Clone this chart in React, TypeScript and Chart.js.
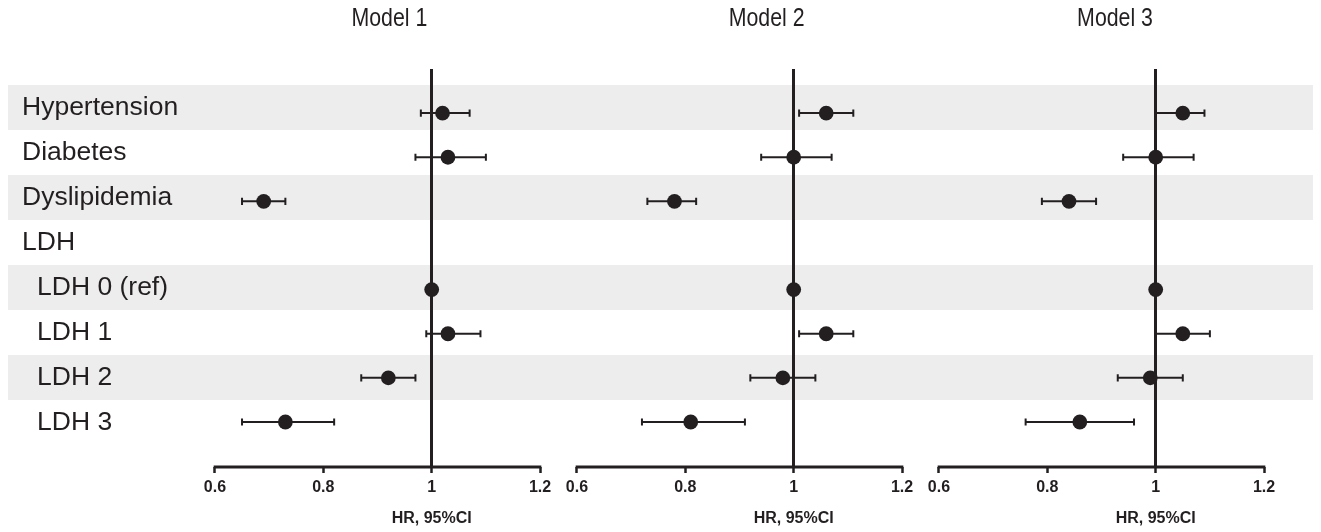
import React, { useEffect, useRef } from "react";
import { Chart, registerables } from "chart.js";

Chart.register(...registerables);

// ---------- data ----------
const rowLabels = [
  "Hypertension",
  "Diabetes",
  "Dyslipidemia",
  "LDH",
  "LDH 0 (ref)",
  "LDH 1",
  "LDH 2",
  "LDH 3",
];
const rowIndented = [false, false, false, false, true, true, true, true];
const shadedRows = [0, 2, 4, 6];

const modelTitles = ["Model 1", "Model 2", "Model 3"];
const tickValues = [0.6, 0.8, 1.0, 1.2];
const tickLabels = ["0.6", "0.8", "1", "1.2"];
const axisTitle = "HR, 95%CI";
const refValue = 1.0;

const model1HR = [1.02, 1.03, 0.69, null, 1.0, 1.03, 0.92, 0.73];
const model1Lo = [0.98, 0.97, 0.65, null, null, 0.99, 0.87, 0.65];
const model1Hi = [1.07, 1.1, 0.73, null, null, 1.09, 0.97, 0.82];

const model2HR = [1.06, 1.0, 0.78, null, 1.0, 1.06, 0.98, 0.81];
const model2Lo = [1.01, 0.94, 0.73, null, null, 1.01, 0.92, 0.72];
const model2Hi = [1.11, 1.07, 0.82, null, null, 1.11, 1.04, 0.91];

const model3HR = [1.05, 1.0, 0.84, null, 1.0, 1.05, 0.99, 0.86];
const model3Lo = [1.0, 0.94, 0.79, null, null, 1.0, 0.93, 0.76];
const model3Hi = [1.09, 1.07, 0.89, null, null, 1.1, 1.05, 0.96];

const models = [
  { hr: model1HR, lo: model1Lo, hi: model1Hi },
  { hr: model2HR, lo: model2Lo, hi: model2Hi },
  { hr: model3HR, lo: model3Lo, hi: model3Hi },
];

// ---------- styling ----------
const INK = "#231f20";
const BAND = "#ededed";
const SANS = '"Liberation Sans", Arial, Helvetica, sans-serif';
const AXIS_PAD = 0.034;
const titleAnchors = [0.922, 0.95, 0.925];
const xIds = ["x0", "x1", "x2"];

function fontAvailable(ctx: CanvasRenderingContext2D, fam: string) {
  const probe = "Model 1 abcdefg";
  ctx.font = `40px "${fam}", monospace`;
  const a = ctx.measureText(probe).width;
  ctx.font = "40px monospace";
  const b = ctx.measureText(probe).width;
  return a !== b;
}

export default function App() {
  const ref = useRef<HTMLCanvasElement | null>(null);

  useEffect(() => {
    const canvas = ref.current;
    if (!canvas) return;
    const probeCtx = canvas.getContext("2d")!;
    const narrow = fontAvailable(probeCtx, "Liberation Sans Narrow");
    const titleFont = narrow
      ? `26px "Liberation Sans Narrow", ${SANS}`
      : `26px ${SANS}`;
    const titleSqueeze = narrow ? 1 : 0.82;

    const datasets: any[] = [];
    models.forEach((m, p) => {
      datasets.push({
        type: "scatter",
        xAxisID: xIds[p],
        yAxisID: "y",
        order: 0,
        data: m.hr
          .map((v, i) => (v == null ? null : { x: v, y: i }))
          .filter((d) => d !== null),
        pointRadius: 7.4,
        pointHoverRadius: 7.4,
        pointBackgroundColor: INK,
        pointBorderColor: INK,
        pointBorderWidth: 0,
        showLine: false,
      });
      m.lo.forEach((lo, i) => {
        const hi = m.hi[i];
        if (lo == null || hi == null) return;
        datasets.push({
          type: "scatter",
          xAxisID: xIds[p],
          yAxisID: "y",
          order: 1,
          data: [
            { x: lo, y: i },
            { x: hi, y: i },
          ],
          showLine: true,
          borderColor: INK,
          borderWidth: 2,
          pointStyle: "line",
          rotation: 90,
          pointRadius: 3.6,
          pointHoverRadius: 3.6,
          pointBorderColor: INK,
          pointBorderWidth: 2,
        });
      });
    });

    const xScale = () => ({
      type: "linear",
      position: "bottom",
      stack: "panels",
      stackWeight: 1,
      min: tickValues[0] - AXIS_PAD,
      max: tickValues[tickValues.length - 1] + AXIS_PAD,
      afterBuildTicks: (s: any) => {
        s.ticks = tickValues.map((v) => ({ value: v }));
      },
      afterFit: (s: any) => {
        s.height = 65;
      },
      border: { display: false },
      grid: {
        drawOnChartArea: true,
        drawTicks: true,
        color: (c: any) =>
          c.tick && Math.abs(c.tick.value - refValue) < 1e-9 ? INK : "rgba(0,0,0,0)",
        lineWidth: 3,
        tickColor: INK,
        tickWidth: 2.5,
        tickLength: 6,
      },
      ticks: {
        autoSkip: false,
        maxRotation: 0,
        minRotation: 0,
        padding: 5,
        color: INK,
        font: { family: SANS, size: 16, weight: "bold" },
        callback: (_v: any, i: number) => tickLabels[i],
      },
      title: { display: false },
    });

    const decor = {
      id: "forestDecor",
      beforeDraw(chart: any) {
        const { ctx, width } = chart;
        const yb = chart.scales.yBand;
        ctx.save();
        ctx.fillStyle = BAND;
        shadedRows.forEach((r) => {
          const t = yb.getPixelForValue(r - 0.5);
          const b = yb.getPixelForValue(r + 0.5);
          ctx.fillRect(0, t, width, b - t);
        });
        ctx.restore();
      },
      afterDraw(chart: any) {
        const { ctx } = chart;
        const yb = chart.scales.yBand;
        ctx.save();
        // axis baselines
        xIds.forEach((id) => {
          const s = chart.scales[id];
          const a = s.getPixelForValue(tickValues[0]);
          const b = s.getPixelForValue(tickValues[tickValues.length - 1]);
          ctx.strokeStyle = INK;
          ctx.lineWidth = 3;
          ctx.lineCap = "butt";
          ctx.beginPath();
          ctx.moveTo(a - 1.25, s.top);
          ctx.lineTo(b + 1.25, s.top);
          ctx.stroke();
        });
        // row labels
        ctx.fillStyle = INK;
        ctx.font = `26.5px ${SANS}`;
        ctx.textAlign = "left";
        ctx.textBaseline = "middle";
        rowLabels.forEach((lab, i) => {
          ctx.fillText(lab, rowIndented[i] ? 29 : 14, yb.getPixelForValue(i));
        });
        // model titles (condensed look)
        ctx.font = titleFont;
        ctx.textAlign = "center";
        modelTitles.forEach((t, p) => {
          const s = chart.scales[xIds[p]];
          const cx = s.getPixelForValue(titleAnchors[p]);
          ctx.save();
          ctx.translate(cx, 11);
          ctx.scale(titleSqueeze, 1);
          ctx.fillText(t, 0, 0);
          ctx.restore();
        });
        // axis titles
        ctx.font = `bold 16px ${SANS}`;
        ctx.textAlign = "center";
        ctx.textBaseline = "middle";
        xIds.forEach((id) => {
          const s = chart.scales[id];
          ctx.fillText(axisTitle, s.getPixelForValue(refValue), 511);
        });
        ctx.restore();
      },
    };

    const chart = new Chart(canvas, {
      type: "scatter",
      data: { datasets },
      options: {
        animation: false,
        responsive: false,
        devicePixelRatio: 1,
        layout: { padding: { left: 188.5, right: 38.5, top: 61, bottom: 0 } },
        plugins: {
          legend: { display: false },
          tooltip: { enabled: false },
          title: { display: false },
        },
        events: [],
        scales: {
          y: { type: "linear", min: -1, max: 8.02, reverse: true, display: false },
          yBand: { type: "linear", min: -0.856, max: 7.989, reverse: true, display: false },
          x0: xScale(),
          x1: xScale(),
          x2: xScale(),
        } as any,
      },
      plugins: [decor],
    } as any);

    return () => chart.destroy();
  }, []);

  return (
    <div>
      <canvas ref={ref} width={1313} height={524} style={{ display: "block" }} />
    </div>
  );
}
